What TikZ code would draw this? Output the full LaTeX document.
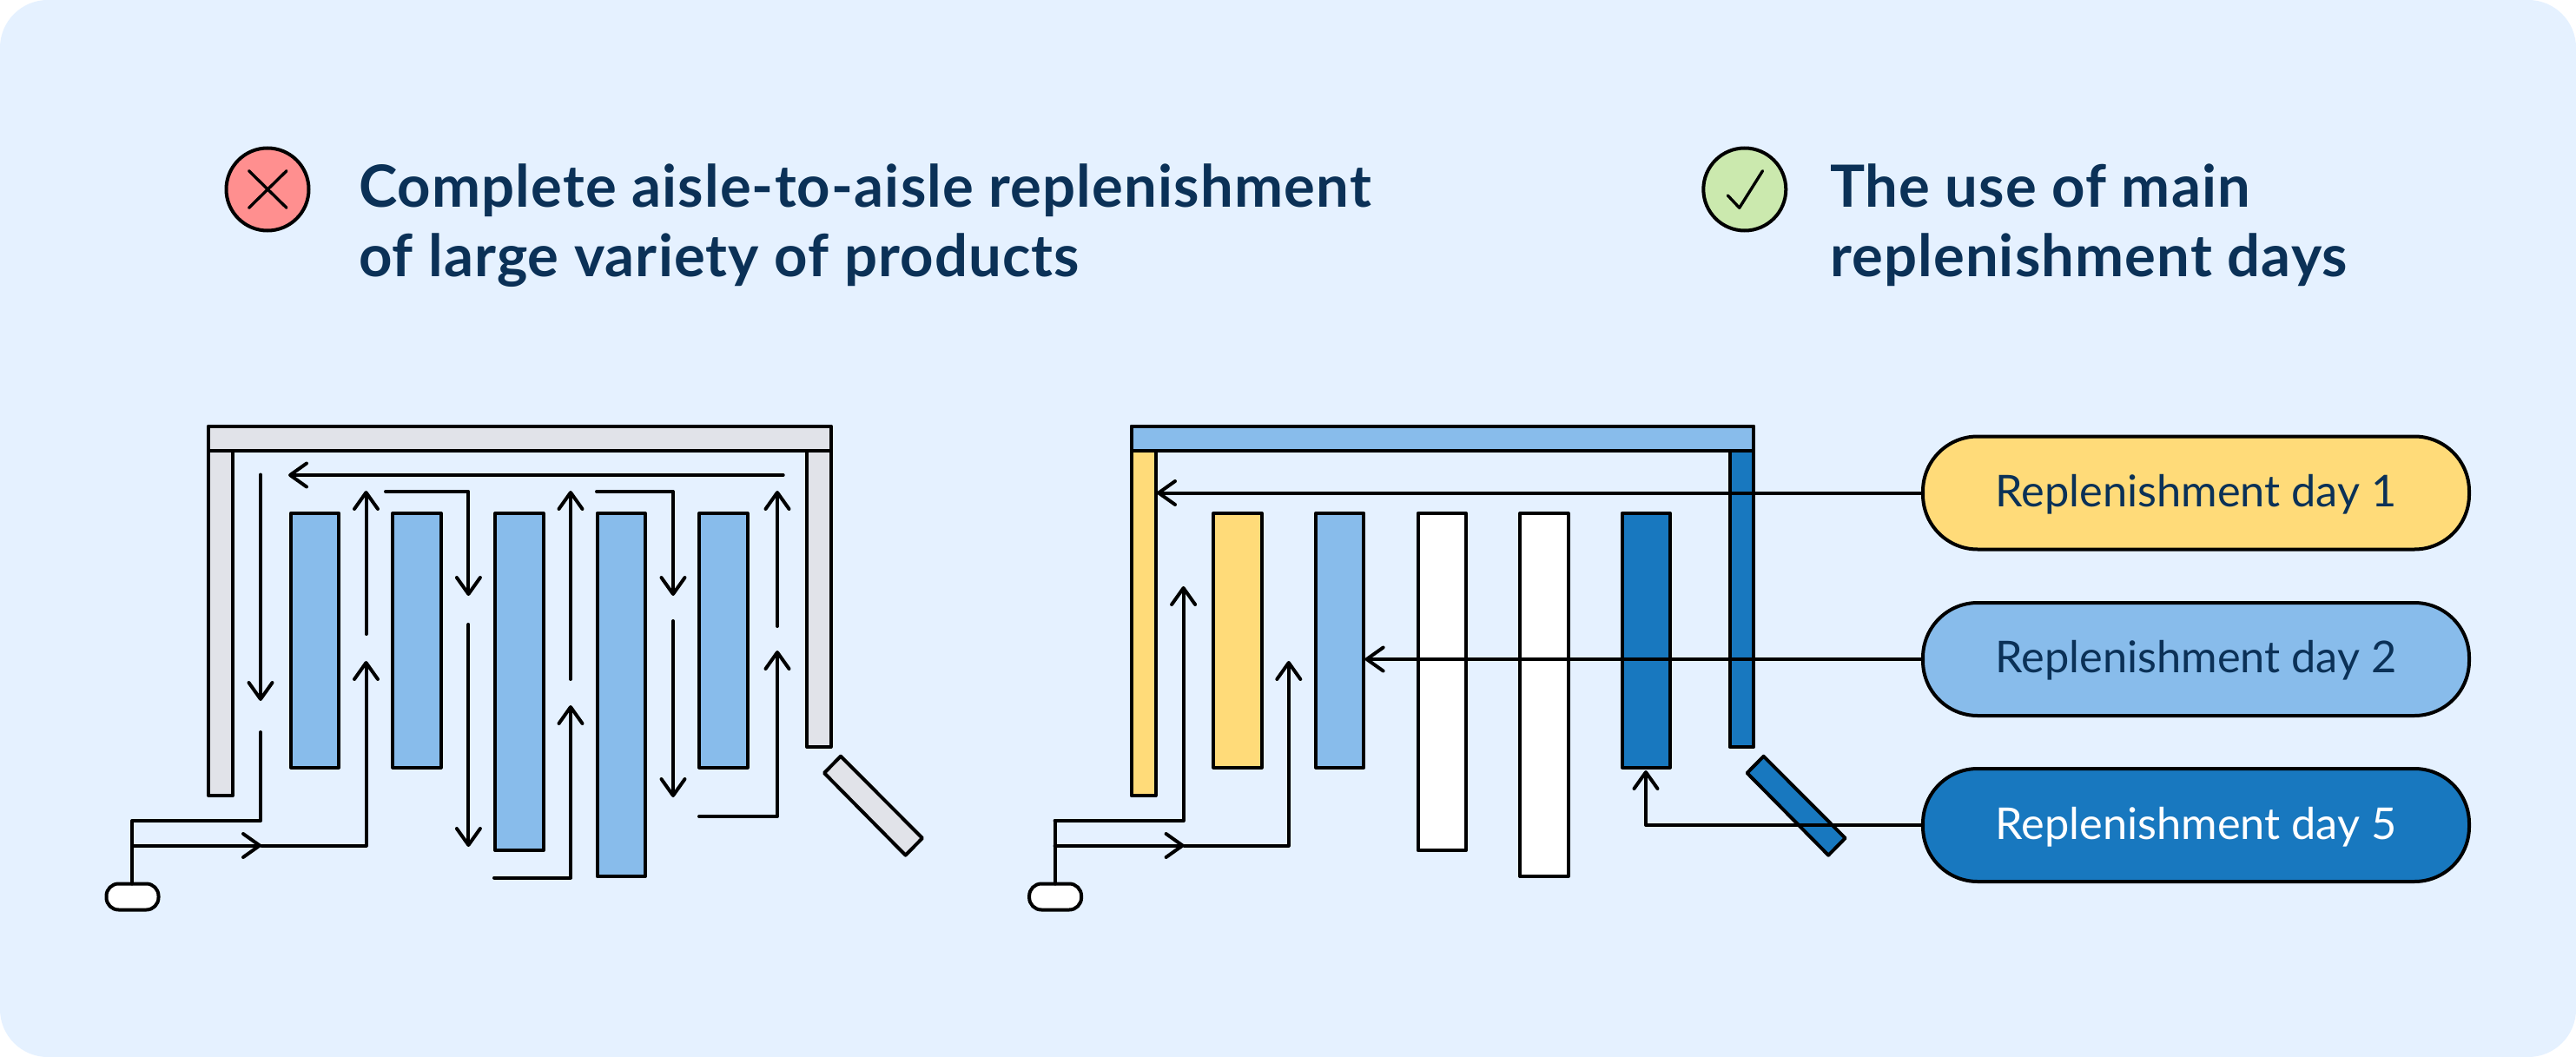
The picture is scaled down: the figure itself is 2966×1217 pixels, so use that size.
\documentclass[tikz,border=0pt]{standalone}
\usepackage{fontspec}
\setmainfont{Lato}
\newfontfamily\headfont[LetterSpace=1.7]{Lato Bold}
\usetikzlibrary{arrows.meta}
\definecolor{panelbg}{HTML}{E5F1FF}
\definecolor{shelfgray}{HTML}{E1E3E9}
\definecolor{lightblue}{HTML}{88BCEB}
\definecolor{darkblue}{HTML}{1878BF}
\definecolor{sunyellow}{HTML}{FFDB79}
\definecolor{inkblue}{HTML}{0B3157}
\definecolor{badred}{HTML}{FF8F8F}
\definecolor{goodgreen}{HTML}{CBE9AE}
\tikzset{
  shelf/.style={draw=black,line width=4pt,rectangle,inner sep=0pt,outer sep=0pt,anchor=north west,line join=round},
  route/.style={draw=black,line width=4pt,line cap=round,line join=round},
  routearrow/.style={route,-{Straight Barb[length=19pt,width=27pt,line width=4pt,round]}},
  daypill/.style={draw=black,line width=4pt,rounded corners=63pt,minimum width=629pt,minimum height=130pt,inner sep=0pt,outer sep=0pt},
  daytext/.style={anchor=base,inner sep=0pt,font=\fontsize{50.5}{50.5}\selectfont},
  headline/.style={anchor=base west,inner sep=0pt,outer sep=0pt,text=inkblue,font=\headfont\fontsize{67}{80}\selectfont},
  cart/.style={draw=black,line width=4pt,fill=white,rounded corners=14pt,minimum width=60pt,minimum height=30pt,inner sep=0pt,outer sep=0pt},
  badge/.style={draw=black,line width=4pt,circle,minimum size=95pt,inner sep=0pt,outer sep=0pt},
  glyphline/.style={draw=black,line width=3.4pt,line cap=round,line join=round}
}
\newcommand{\shelfat}[6]{\node[shelf,fill=#6,minimum width=#4 pt,minimum height=#5 pt] (#1) at (#2,#3) {};}
\begin{document}
\begin{tikzpicture}[x=1pt,y=-1pt]
\useasboundingbox (0,0) rectangle (2966,1217);
\fill[white] (0,0) rectangle (2966,1217);
\fill[panelbg,rounded corners=55pt] (0,0) rectangle (2966,1217);
% badges and headlines
\node[badge,fill=badred] (bad) at (308,218) {};
\coordinate (x1) at (286.6,196.7); \coordinate (x2) at (330,239.3);
\coordinate (x3) at (330,196.7); \coordinate (x4) at (286.6,239.3);
\draw[glyphline] (x1) -- (x2); \draw[glyphline] (x3) -- (x4);
\node[badge,fill=goodgreen] (good) at (2008.8,218) {};
\coordinate (c1) at (1989.3,225); \coordinate (c2) at (2002.7,239.3); \coordinate (c3) at (2029.5,196.7);
\draw[glyphline] (c1) -- (c2) -- (c3);
\node[headline] (h1) at (413,238) {Complete aisle-to-aisle replenishment};
\node[headline] (h2) at (413,318) {of large variety of products};
\node[headline] (h3) at (2107,238) {The use of main};
\node[headline] (h4) at (2107,318) {replenishment days};
% left plan
\shelfat{Lleft}{240}{491}{28}{425}{shelfgray}
\shelfat{Lright}{929}{491}{27.5}{369}{shelfgray}
\shelfat{Ltop}{240}{491}{716.5}{28}{shelfgray}
\shelfat{La}{334.7}{591}{55.5}{292.5}{lightblue}
\shelfat{Lb}{452.3}{591}{55.5}{292.5}{lightblue}
\shelfat{Lc}{570}{591}{55.5}{388}{lightblue}
\shelfat{Ld}{687.5}{591}{55.5}{418}{lightblue}
\shelfat{Le}{805}{591}{55.5}{292.5}{lightblue}
\coordinate (Ld1) at (968,870.7); \coordinate (Ld2) at (949,890);
\coordinate (Ld3) at (1042.6,984.7); \coordinate (Ld4) at (1062,965);
\draw[shelf,fill=shelfgray] (Ld1) -- (Ld2) -- (Ld3) -- (Ld4) -- cycle;
\node[cart] (Lcart) at (152.5,1032.5) {};
% left route
\coordinate (a1) at (901.7,547); \coordinate (a2) at (332,547);
\draw[routearrow] (a1) -- (a2);
\coordinate (b1) at (300,546.5); \coordinate (b2) at (300,807);
\draw[routearrow] (b1) -- (b2);
\coordinate (l1) at (300,843); \coordinate (l2) at (300,945); \coordinate (l3) at (152,945); \coordinate (l4) at (152,973.5);
\draw[route] (l1) -- (l2) -- (l3) -- (Lcart.north -| l3);
\coordinate (m1) at (301,973.5); \coordinate (m2) at (421.5,973.5); \coordinate (m3) at (421.5,761);
\draw[routearrow] (l4) -- (m1);
\draw[routearrow] (m1) -- (m2) -- (m3);
\coordinate (e1) at (421.5,730); \coordinate (e2) at (421.5,565);
\draw[routearrow] (e1) -- (e2);
\coordinate (f1) at (444,566); \coordinate (f2) at (539.4,566); \coordinate (f3) at (539.4,686);
\draw[routearrow] (f1) -- (f2) -- (f3);
\coordinate (g1) at (539.4,719); \coordinate (g2) at (539.4,975);
\draw[routearrow] (g1) -- (g2);
\coordinate (j1) at (569,1010.5); \coordinate (j2) at (657,1010.5); \coordinate (j3) at (657,812);
\draw[routearrow] (j1) -- (j2) -- (j3);
\coordinate (k1) at (657,782); \coordinate (k2) at (657,565);
\draw[routearrow] (k1) -- (k2);
\coordinate (n1) at (687,566); \coordinate (n2) at (775,566); \coordinate (n3) at (775,686);
\draw[routearrow] (n1) -- (n2) -- (n3);
\coordinate (o1) at (775,715); \coordinate (o2) at (775,918);
\draw[routearrow] (o1) -- (o2);
\coordinate (p1) at (805,940); \coordinate (p2) at (895,940); \coordinate (p3) at (895,749);
\draw[routearrow] (p1) -- (p2) -- (p3);
\coordinate (q1) at (895,721); \coordinate (q2) at (895,565);
\draw[routearrow] (q1) -- (q2);
% right plan
\shelfat{Rleft}{1302.6}{491}{28}{425}{sunyellow}
\shelfat{Rright}{1991.6}{491}{27.5}{369}{darkblue}
\shelfat{Rtop}{1302.6}{491}{716.5}{28}{lightblue}
\shelfat{Ra}{1397.3}{591}{55.5}{292.5}{sunyellow}
\shelfat{Rb}{1514.9}{591}{55.5}{292.5}{lightblue}
\shelfat{Rc}{1632.6}{591}{55.5}{388}{white}
\shelfat{Rd}{1750.1}{591}{55.5}{418}{white}
\shelfat{Re}{1867.6}{591}{55.5}{292.5}{darkblue}
\coordinate (Rd1) at (2030.6,870.7); \coordinate (Rd2) at (2011.6,890);
\coordinate (Rd3) at (2105.2,984.7); \coordinate (Rd4) at (2124.6,965);
\draw[shelf,fill=darkblue] (Rd1) -- (Rd2) -- (Rd3) -- (Rd4) -- cycle;
\node[cart] (Rcart) at (1215.1,1032.5) {};
% right route
\coordinate (r1) at (1362.6,945); \coordinate (r2) at (1214.6,945); \coordinate (r3) at (1214.6,973.5);
\coordinate (r0) at (1362.6,675);
\draw[routearrow] (r2) -- (r1) -- (r0);
\draw[route] (r2) -- (Rcart.north -| r2);
\coordinate (s1) at (1363.6,973.5); \coordinate (s2) at (1483.8,973.5); \coordinate (s3) at (1483.8,761);
\draw[routearrow] (r3) -- (s1);
\draw[routearrow] (s1) -- (s2) -- (s3);
% pills
\coordinate (u1) at (1332,567.5);
\coordinate (u2) at (1571.6,759);
\coordinate (u3) at (1895,950);
\coordinate (u4) at (1895,887);
\node[daypill,fill=sunyellow] (d1) at (2528.5,567.5) {};
\node[daypill,fill=lightblue] (d2) at (2528.5,759) {};
\node[daypill,fill=darkblue] (d5) at (2528.5,950) {};
\node[daytext,text=inkblue] (t1) at (2528.5,583.7) {Replenishment day 1};
\node[daytext,text=inkblue] (t2) at (2528.5,774) {Replenishment day 2};
\node[daytext,text=white] (t5) at (2528.5,966) {Replenishment day 5};
\draw[routearrow] (d1.west) -- (u1);
\draw[routearrow] (d2.west) -- (u2);
\draw[routearrow] (d5.west) -- (u3) -- (u4);
\end{tikzpicture}
\end{document}
